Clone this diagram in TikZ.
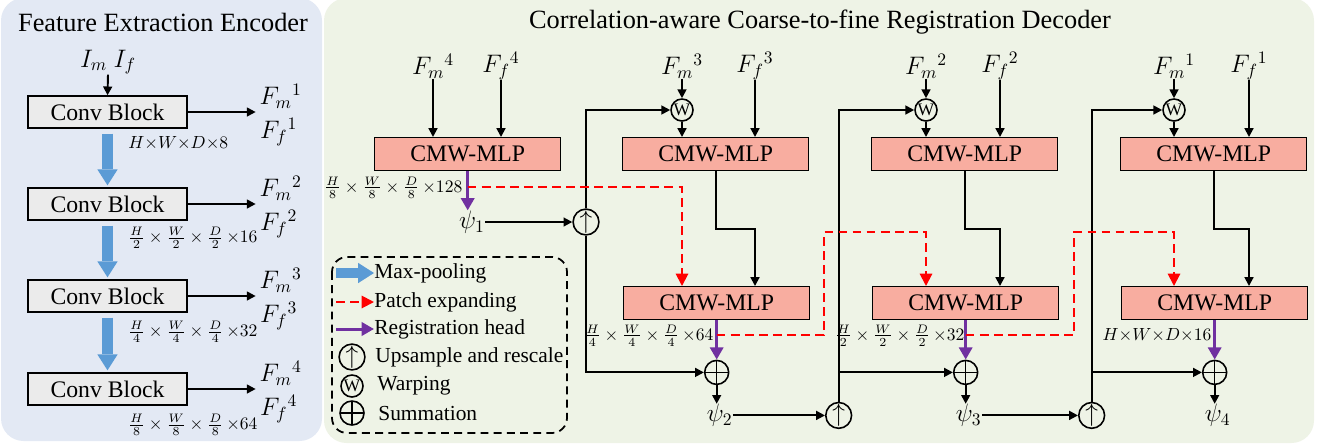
\documentclass[tikz,border=0pt]{standalone}
\usepackage{fontspec}
\setmainfont{Liberation Serif}
\usetikzlibrary{arrows.meta,calc}

\definecolor{encbg}{HTML}{E3E9F4}
\definecolor{decbg}{HTML}{EEF3E6}
\definecolor{convfill}{HTML}{EBEBEB}
\definecolor{cmwfill}{HTML}{F8ADA0}
\definecolor{poolblue}{HTML}{5B9BD5}
\definecolor{headpurple}{HTML}{7030A0}

\tikzset{
  ttl/.style={font=\fontsize{15}{17}\selectfont, inner sep=0pt},
  convbox/.style={draw, fill=convfill, line width=0.8pt, minimum width=3.18cm, minimum height=0.64cm, inner sep=0pt, font=\fontsize{13.5}{15}\selectfont},
  cmwbox/.style={draw, fill=cmwfill, line width=0.8pt, minimum width=3.72cm, minimum height=0.66cm, inner sep=0pt, font=\fontsize{13.5}{15}\selectfont},
  wnode/.style={circle, draw, line width=0.9pt, minimum size=0.44cm, inner sep=0pt, font=\fontsize{10}{11}\selectfont},
  upnode/.style={circle, draw, line width=0.9pt, minimum size=0.48cm, inner sep=0pt, font=\fontsize{14}{15}\selectfont},
  sumnode/.style={circle, draw, line width=0.9pt, minimum size=0.48cm, inner sep=0pt,
    path picture={\draw[line width=0.9pt] (path picture bounding box.north) -- (path picture bounding box.south)
      (path picture bounding box.west) -- (path picture bounding box.east);}},
  flow/.style={line width=1.1pt, -{Triangle[length=5pt,width=5pt]}},
  pool/.style={poolblue, line width=5.7pt, -{Triangle[length=9pt,width=11.5pt,line width=0pt]}},
  expand/.style={red, line width=1.1pt, dash pattern=on 5pt off 3pt, -{Triangle[length=7pt,width=7pt]}},
  reghead/.style={headpurple, line width=1.7pt, -{Triangle[length=7pt,width=7.5pt]}},
  lbl/.style={font=\fontsize{14.5}{17}\selectfont, inner sep=0pt},
  dim/.style={font=\fontsize{10}{12}\selectfont, inner sep=0pt},
  legtext/.style={font=\fontsize{12.2}{14}\selectfont, inner sep=0pt, anchor=west},
}

\begin{document}
\begin{tikzpicture}[x=0.02cm, y=-0.02cm]

  \useasboundingbox (0,0) rectangle (1322,444);

  %--- Panels ---
  \fill[encbg, rounded corners=0.45cm] (1,-2) rectangle (322,441);
  \fill[decbg, rounded corners=0.45cm] (324,-2) rectangle (1314,443);
  \node[ttl] (enctitle) at (163,22) {Feature Extraction Encoder};
  \node[ttl] (dectitle) at (820,22) {Correlation-aware Coarse-to-fine Registration Decoder};

  %--- Encoder ---
  \node[lbl] (inp) at (108,62) {$I_m\ I_f$};
  \foreach \i/\y in {1/112, 2/204, 3/296, 4/389} {
    \node[convbox] (conv\i) at (107.5,\y) {Conv Block};
    \coordinate (encout\i) at ($(conv\i.east)+(68,0)$);
    \draw[flow] (conv\i.east) -- (encout\i);
    \node[lbl] (encfm\i) at ($(conv\i.east)+(93,-16)$) {$F_m{}^{\i}$};
    \node[lbl] (encff\i) at ($(conv\i.east)+(91,20)$) {$F_f{}^{\i}$};
  }
  \draw[flow] (inp.south) -- (conv1.north);
  \foreach \i/\j in {1/2, 2/3, 3/4}
    \draw[pool] ($(conv\i.south)+(0,5)$) -- ($(conv\j.north)+(0,-2)$);

  \node[dim, anchor=west] (encdim1) at (128,143) {$H{\times}W{\times}D{\times}8$};
  \node[dim, anchor=west] (encdim2) at (128,238) {$\frac{H}{2}\times\frac{W}{2}\times\frac{D}{2}\,{\times}16$};
  \node[dim, anchor=west] (encdim3) at (128,332) {$\frac{H}{4}\times\frac{W}{4}\times\frac{D}{4}\,{\times}32$};
  \node[dim, anchor=west] (encdim4) at (128,425) {$\frac{H}{8}\times\frac{W}{8}\times\frac{D}{8}\,{\times}64$};

  %--- Decoder: upper CMW-MLP of each level ---
  \foreach \n/\l/\fm/\ff in {4/374/433/501, 3/622/682/755, 2/871/926/1000, 1/1120/1174/1249} {
    \node[cmwbox, anchor=north west] (top\n) at (\l,137) {CMW-MLP};
    \node[lbl] (fm\n) at (\fm,66) {$F_m{}^{\n}$};
    \node[lbl] (ff\n) at (\ff,66) {$F_f{}^{\n}$};
    \draw[flow] (ff\n.south) -- (ff\n.south |- top\n.north);
  }
  \draw[flow] (fm4.south) -- (fm4.south |- top4.north);

  %--- Decoder: warping, lower CMW-MLP, summation ---
  \foreach \n/\l/\p in {3/622/2, 2/871/3, 1/1120/4} {
    \node[wnode] (w\n) at (fm\n.south |- 0,110) {W};
    \draw[flow] (fm\n.south) -- (w\n.north);
    \draw[flow] (w\n.south) -- (w\n.south |- top\n.north);
    \node[cmwbox, anchor=north west] (bot\n) at (\l+1,286) {CMW-MLP};
    \draw[flow] (top\n.south) -- ++(0,58) -| (bot\n.north -| ff\n);
    \node[sumnode] (sum\n) at ($(bot\n.south)+(0,52)$) {};
    \draw[reghead] (bot\n.south) -- (sum\n.north);
    \node[lbl] (psi\p) at ($(sum\n)+(3,43)$) {$\psi_{\p}$};
    \draw[flow] (sum\n.south) -- (sum\n.south |- psi\p.north);
  }

  %--- psi_1 and upsampling ---
  \node[lbl] (psi1) at (472,222) {$\psi_{1}$};
  \draw[reghead] (top4.south) -- (top4.south |- psi1.north);
  \node[upnode] (up1) at (586,222) {$\uparrow$};
  \node[upnode] (up2) at ($(psi2)+(119,0)$) {$\uparrow$};
  \node[upnode] (up3) at ($(psi3)+(123,0)$) {$\uparrow$};
  \draw[flow] (psi1.east) -- (up1.west);
  \draw[flow] (psi2.east) -- (up2.west);
  \draw[flow] (psi3.east) -- (up3.west);
  \draw[flow] (up1.north) |- (w3.west);
  \draw[flow] (up1.south) |- (sum3.west);
  \draw[flow] (up2.north) |- (w2.west);
  \draw[flow] (up2.north |- sum2.west) -- (sum2.west);
  \draw[flow] (up3.north) |- (w1.west);
  \draw[flow] (up3.north |- sum1.west) -- (sum1.west);

  %--- Patch expanding ---
  \draw[expand] ($(top4.south)+(0,16)$) -| (bot3.north -| w3);
  \draw[expand] ($(bot3.south)+(0,15)$) -- ++(107,0) -- ++(0,-103) -| (bot2.north -| w2);
  \draw[expand] ($(bot2.south)+(0,15)$) -- ++(108,0) -- ++(0,-103) -| (bot1.north -| w1);

  %--- Shapes of the tensors ---
  \node[dim, anchor=east] (dim4) at ($(top4.south)+(-5,16)$) {$\frac{H}{8}\times\frac{W}{8}\times\frac{D}{8}\,{\times}128$};
  \node[dim, anchor=east] (dim3) at ($(bot3.south)+(-3,15)$) {$\frac{H}{4}\times\frac{W}{4}\times\frac{D}{4}\,{\times}64$};
  \node[dim, anchor=east] (dim2) at ($(bot2.south)+(-1,15)$) {$\frac{H}{2}\times\frac{W}{2}\times\frac{D}{2}\,{\times}32$};
  \node[dim, anchor=east] (dim1) at ($(bot1.south)+(-3,15)$) {$H{\times}W{\times}D{\times}16$};

  %--- Legend ---
  \draw[line width=1pt, dash pattern=on 4.5pt off 3pt, rounded corners=0.3cm] (332,257) rectangle (567,433);
  \node[legtext] (lgpool) at (374,273) {Max-pooling};
  \node[legtext] (lgexp) at (374,302) {Patch expanding};
  \node[legtext] (lghead) at (374,329) {Registration head};
  \draw[pool] ($(lgpool.west)+(-38,0)$) -- (lgpool.west);
  \draw[expand] ($(lgexp.west)+(-38,0)$) -- (lgexp.west);
  \draw[reghead] ($(lghead.west)+(-38,0)$) -- (lghead.west);
  \node[upnode] (lgup) at (352,357) {$\uparrow$};
  \node[wnode] (lgw) at (352,386) {W};
  \node[sumnode] (lgsum) at (352,413) {};
  \node[legtext] (lguptext) at (375,357) {Upsample and rescale};
  \node[legtext] (lgwtext) at (377,386) {Warping};
  \node[legtext] (lgsumtext) at (378,413) {Summation};

\end{tikzpicture}
\end{document}
